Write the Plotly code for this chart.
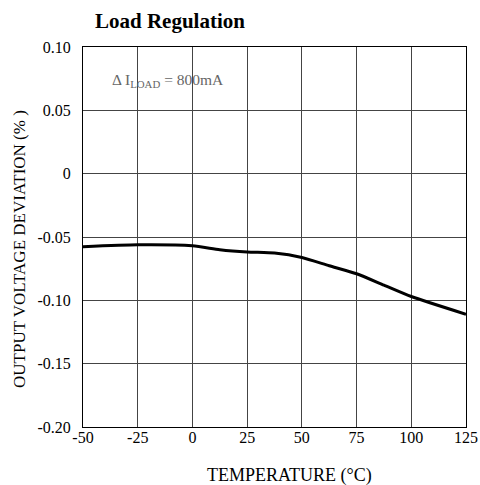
import plotly.graph_objects as go

# Data
temperature_c = [-50, -25, 0, 12.5, 25, 37.5, 50, 62.5, 75, 87.5, 100, 125]
deviation_pct = [-0.0577, -0.0562, -0.0570, -0.0600, -0.0618, -0.0627, -0.0662, -0.0727, -0.0790, -0.0880, -0.0970, -0.1110]

x_tick_vals = [-50, -25, 0, 25, 50, 75, 100, 125]
x_tick_text = ["-50", "-25", "0", "25", "50", "75", "100", "125"]
y_tick_vals = [0.10, 0.05, 0.0, -0.05, -0.10, -0.15, -0.20]
y_tick_text = ["0.10", "0.05", "0", "-0.05", "-0.10", "-0.15", "-0.20"]

FONT = "Liberation Serif, Times New Roman, serif"

W, H = 480, 485

fig = go.Figure()
fig.add_trace(go.Scatter(
    x=temperature_c, y=deviation_pct, mode="lines",
    line=dict(color="black", width=3, shape="spline", smoothing=0.6),
    hoverinfo="skip", showlegend=False,
))

fig.update_layout(
    width=W, height=H,
    margin=dict(l=83, r=14, t=47, b=58, autoexpand=False),
    paper_bgcolor="white", plot_bgcolor="white",
    font=dict(family=FONT, size=16, color="black"),
    title=dict(text="<b>Load Regulation</b>", x=95 / W, xanchor="left",
               y=1 - 21 / H, yanchor="middle",
               font=dict(family=FONT, size=21, color="black")),
    showlegend=False,
)
fig.update_xaxes(
    range=[-50, 125], tickvals=x_tick_vals, ticktext=x_tick_text,
    showgrid=True, gridcolor="#444444", gridwidth=1,
    showline=True, linecolor="black", linewidth=1, mirror=True,
    ticks="", zeroline=False, tickfont=dict(size=16, family=FONT),
    ticklabelstandoff=-4, ticklabeloverflow="allow",
)
fig.update_yaxes(
    range=[-0.20, 0.10], tickvals=y_tick_vals, ticktext=y_tick_text,
    showgrid=True, gridcolor="#444444", gridwidth=1,
    showline=True, linecolor="black", linewidth=1, mirror=True,
    ticks="outside", ticklen=8, tickcolor="rgba(0,0,0,0)",
    zeroline=False, tickfont=dict(size=16, family=FONT),
    ticklabeloverflow="allow",
)

fig.add_annotation(
    text="Δ I<sub>LOAD</sub> = 800mA", xref="paper", yref="paper",
    x=(110 - 83) / 383, y=1 - (80 - 47) / 380, xanchor="left", yanchor="middle",
    showarrow=False, font=dict(family=FONT, size=15.5, color="#666666"),
)
fig.add_annotation(
    text="TEMPERATURE (°C)", xref="paper", yref="paper",
    x=(289 - 83) / 383, y=-(475 - 427) / 380, xanchor="center", yanchor="middle",
    showarrow=False, font=dict(family=FONT, size=18, color="black"),
)
fig.add_annotation(
    text="OUTPUT VOLTAGE DEVIATION (% )", xref="paper", yref="paper",
    x=-(83 - 19) / 383, y=1 - (249 - 47) / 380, xanchor="center", yanchor="middle",
    textangle=-90,
    showarrow=False, font=dict(family=FONT, size=17, color="black"),
)

fig.write_html("out.html", config={"displayModeBar": False, "staticPlot": True},
               post_script="document.body.style.margin='0';")
